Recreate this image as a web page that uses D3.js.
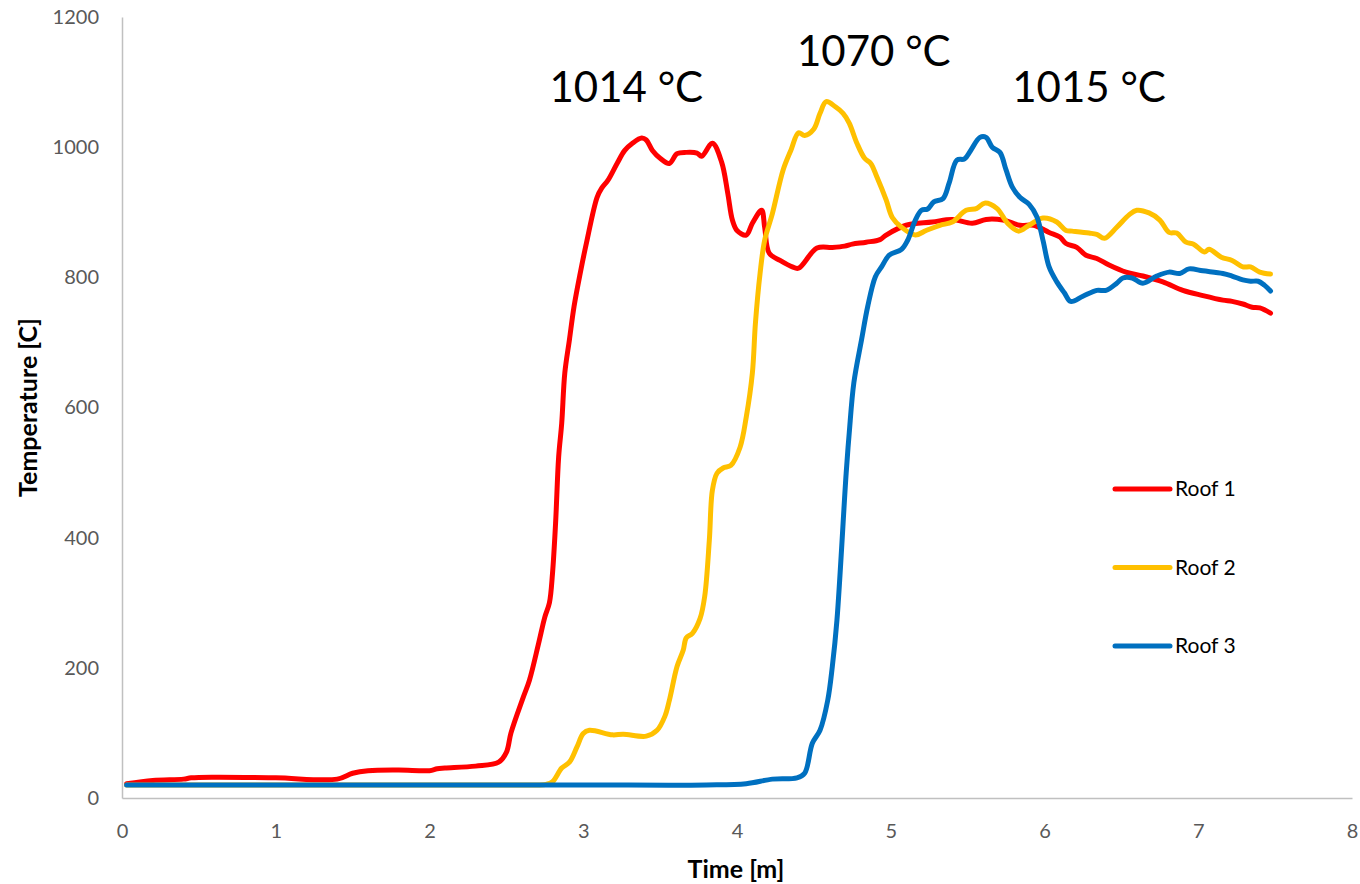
<!DOCTYPE html>
<html>
<head>
<meta charset="utf-8">
<script src="https://cdn.jsdelivr.net/npm/d3@7"></script>
<style>
  html, body { margin: 0; padding: 0; background: #ffffff; }
  svg { display: block; font-family: Lato, "Open Sans", sans-serif; }
</style>
</head>
<body>
<svg id="chart" width="1360" height="884"></svg>
<script>
// Time in minutes and temperature in °C for each roof sensor
const roof1Time = [0.03,0.2,0.4,0.45,0.6,1.0,1.4,1.5,1.6,1.8,2.0,2.05,2.1,2.3,2.45,2.5,2.53,2.61,2.65,2.71,2.75,2.78,2.80,2.82,2.84,2.86,2.88,2.91,2.94,2.98,3.02,3.09,3.12,3.16,3.22,3.27,3.32,3.38,3.41,3.45,3.50,3.56,3.61,3.67,3.74,3.77,3.84,3.90,3.94,3.97,4.00,4.06,4.10,4.16,4.18,4.21,4.28,4.36,4.40,4.52,4.62,4.70,4.75,4.84,4.93,4.97,5.10,5.27,5.40,5.53,5.62,5.73,5.84,5.93,6.03,6.10,6.14,6.21,6.27,6.34,6.42,6.53,6.64,6.77,6.90,7.03,7.16,7.22,7.29,7.35,7.40,7.47];
const roof1Temp = [22,27,29,31,32,31,29,38,42,43,42,45,46,49,55,70,100,155,181,238,278,300,345,422,524,576,653,704,755,806,852,923,937,949,975,995,1006,1014,1011,995,983,975,990,992,991,986,1006,977,929,888,872,865,883,903,877,837,826,816,814,845,846,848,851,854,858,865,880,885,889,883,889,888,880,880,869,862,852,846,834,829,819,808,802,793,780,772,765,763,759,754,753,745];

const roof2Time = [0.03,1.0,2.0,2.5,2.7,2.76,2.80,2.86,2.91,2.96,3.00,3.04,3.19,3.26,3.41,3.48,3.53,3.56,3.61,3.65,3.67,3.71,3.76,3.79,3.82,3.84,3.87,3.91,3.96,4.02,4.06,4.10,4.12,4.15,4.18,4.23,4.30,4.35,4.40,4.44,4.50,4.54,4.58,4.64,4.69,4.73,4.78,4.83,4.87,4.91,4.97,5.01,5.07,5.16,5.23,5.32,5.40,5.49,5.56,5.61,5.69,5.76,5.83,5.90,5.99,6.08,6.14,6.18,6.29,6.34,6.39,6.47,6.55,6.60,6.68,6.75,6.81,6.86,6.92,6.97,7.04,7.07,7.15,7.22,7.29,7.34,7.40,7.47];
const roof2Temp = [20,20,20,20,20,21,25,46,55,79,99,104,97,98,95,104,125,150,202,227,246,253,276,310,396,473,499,507,511,539,585,653,730,806,857,898,965,995,1022,1018,1028,1052,1070,1062,1052,1037,1006,983,975,954,919,892,877,865,872,880,885,903,906,914,906,883,871,880,891,885,872,871,868,866,860,877,896,903,899,888,869,868,854,851,839,843,831,826,816,816,808,805];

const roof3Time = [0.03,1.0,2.0,3.0,3.8,4.06,4.23,4.39,4.44,4.49,4.54,4.59,4.62,4.65,4.71,4.73,4.76,4.81,4.85,4.90,4.94,4.99,5.07,5.11,5.16,5.20,5.24,5.28,5.34,5.38,5.43,5.48,5.52,5.58,5.62,5.66,5.71,5.75,5.79,5.84,5.90,5.95,5.99,6.03,6.08,6.13,6.17,6.25,6.34,6.40,6.47,6.51,6.57,6.64,6.73,6.81,6.88,6.94,7.03,7.16,7.22,7.29,7.34,7.39,7.43,7.47];
const roof3Temp = [20,20,20,20,20,22,29,31,38,84,104,150,202,273,499,561,638,704,755,801,816,834,843,857,888,903,905,916,921,945,980,982,995,1015,1015,1000,992,965,939,923,912,893,857,816,793,776,763,771,780,780,791,799,799,791,802,808,806,813,810,806,802,796,794,794,788,779];

const seriesNames = ["Roof 1", "Roof 2", "Roof 3"];
const seriesColors = ["#FF0000", "#FFC000", "#0070C0"];
const xTicks = [0,1,2,3,4,5,6,7,8];
const yTicks = [0,200,400,600,800,1000,1200];

// Peak annotations: [time of label centre, temperature of label baseline, text]
const peakLabels = [
  { t: 3.28, temp: 1070, text: "1014 °C" },
  { t: 4.89, temp: 1125, text: "1070 °C" },
  { t: 6.29, temp: 1070, text: "1015 °C" }
];

const series = [
  roof1Time.map((t, i) => ({ t, v: roof1Temp[i] })),
  roof2Time.map((t, i) => ({ t, v: roof2Temp[i] })),
  roof3Time.map((t, i) => ({ t, v: roof3Temp[i] }))
];

const svg = d3.select("#chart");
const margin = { left: 122, right: 8, top: 17, bottom: 86 };
const W = 1360, H = 884;

const x = d3.scaleLinear().domain([0, 8]).range([margin.left, W - margin.right]);
const y = d3.scaleLinear().domain([0, 1200]).range([H - margin.bottom, margin.top]);

// Axes
const xAxis = svg.append("g")
  .attr("transform", `translate(0,${y(0)})`)
  .call(d3.axisBottom(x).tickValues(xTicks).tickSize(0).tickPadding(26).tickFormat(d3.format("d")));
const yAxis = svg.append("g")
  .attr("transform", `translate(${x(0)},0)`)
  .call(d3.axisLeft(y).tickValues(yTicks).tickSize(0).tickPadding(23).tickFormat(d3.format("d")));

[xAxis, yAxis].forEach(a => {
  a.select(".domain").attr("stroke", "#C0C0C0").attr("stroke-width", 1.5);
  a.selectAll("text")
    .attr("fill", "#595959")
    .style("font-family", "Lato, sans-serif")
    .style("font-size", "20px");
});

// Axis titles
svg.append("text")
  .attr("x", (x(0) + x(8)) / 2 - 1)
  .attr("y", 878)
  .attr("text-anchor", "middle")
  .style("font-size", "25px")
  .style("font-weight", "bold")
  .attr("fill", "#000")
  .text("Time [m]");

svg.append("text")
  .attr("transform", `translate(37,${(y(0) + y(1200)) / 2}) rotate(-90)`)
  .attr("text-anchor", "middle")
  .style("font-size", "25px")
  .style("font-weight", "bold")
  .attr("fill", "#000")
  .text("Temperature [C]");

// Temperature curves
const line = d3.line()
  .x(d => x(d.t))
  .y(d => y(d.v))
  .curve(d3.curveCatmullRom.alpha(0.5));

series.forEach((data, i) => {
  svg.append("path")
    .datum(data)
    .attr("fill", "none")
    .attr("stroke", seriesColors[i])
    .attr("stroke-width", 5)
    .attr("stroke-linejoin", "round")
    .attr("stroke-linecap", "round")
    .attr("d", line);
});

// Peak labels
svg.selectAll("text.peak")
  .data(peakLabels)
  .enter().append("text")
  .attr("class", "peak")
  .attr("x", d => x(d.t))
  .attr("y", d => y(d.temp))
  .attr("text-anchor", "middle")
  .style("font-size", "42px")
  .attr("fill", "#000")
  .text(d => d.text);

// Legend
const legend = svg.append("g").attr("transform", "translate(1115,489)");
seriesNames.forEach((name, i) => {
  const g = legend.append("g").attr("transform", `translate(0,${i * 78.5})`);
  g.append("line")
    .attr("x1", 0).attr("x2", 55)
    .attr("y1", 0).attr("y2", 0)
    .attr("stroke", seriesColors[i])
    .attr("stroke-width", 5)
    .attr("stroke-linecap", "round");
  g.append("text")
    .attr("x", 60)
    .attr("y", 7)
    .style("font-size", "21px")
    .attr("fill", "#000")
    .text(name);
});
</script>
</body>
</html>
